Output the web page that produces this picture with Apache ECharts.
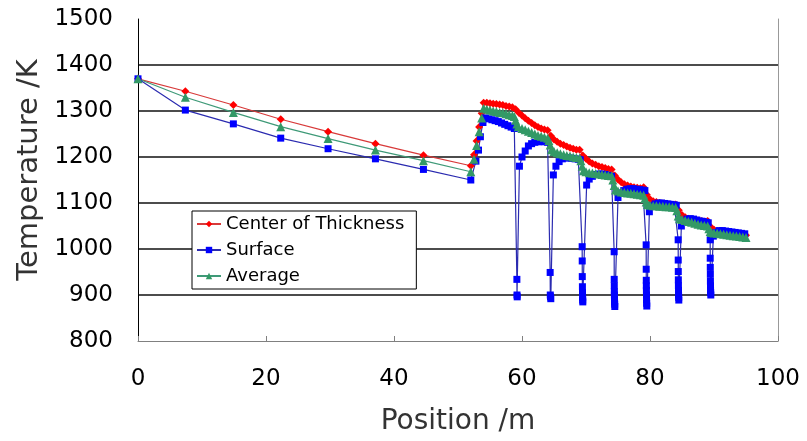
<!DOCTYPE html>
<html>
<head>
<meta charset="utf-8">
<title>Temperature along position</title>
<script src="https://cdn.jsdelivr.net/npm/echarts@6/dist/echarts.min.js"></script>
<style>
  html, body { margin: 0; padding: 0; background: #fff; }
  #chart { width: 807px; height: 441px; }
</style>
</head>
<body>
<div id="chart"></div>
<script>
  // axis ranges
  const xRange = [0, 100, 20];
  const yRange = [800, 1500, 100];

  // Center of Thickness
  const centerPos = [0, 7.4, 14.9, 22.3, 29.7, 37.1, 44.6, 52.0, 52.5, 52.9, 53.3, 53.7,
    54.0, 54.5, 55.0, 55.5, 56.0, 56.5, 57.0, 57.5, 58.0, 58.5, 59.0, 59.5, 60.0, 60.5,
    61.0, 61.5, 62.0, 62.5, 63.0, 63.5, 64.0, 64.5, 65.0, 65.5, 66.0, 66.5, 67.0, 67.5,
    68.0, 68.5, 69.0, 69.5, 70.0, 70.5, 71.0, 71.5, 72.0, 72.5, 73.0, 73.5, 74.0, 74.5,
    75.0, 75.5, 76.0, 76.5, 77.0, 77.5, 78.0, 78.5, 79.0, 79.5, 80.0, 80.5, 81.0, 81.5,
    82.0, 82.5, 83.0, 83.5, 84.0, 84.5, 85.0, 85.5, 86.0, 86.5, 87.0, 87.5, 88.0, 88.5,
    89.0, 89.5, 90.0, 90.5, 91.0, 91.5, 92.0, 92.5, 93.0, 93.5, 94.0, 94.5, 95.0];
  const centerTemp = [1370, 1343, 1313, 1282, 1255, 1229, 1204, 1181, 1205, 1235, 1265, 1295,
    1318, 1318, 1317, 1316, 1315, 1314, 1313, 1311, 1310, 1308, 1304, 1296, 1290, 1284,
    1279, 1274, 1269, 1265, 1262, 1260, 1258, 1246, 1238, 1233, 1229, 1226, 1223, 1220,
    1218, 1216, 1216, 1203, 1196, 1190, 1186, 1183, 1180, 1178, 1176, 1174, 1173, 1160,
    1151, 1145, 1141, 1138, 1136, 1134, 1133, 1132, 1134, 1118, 1108, 1104, 1102, 1100,
    1099, 1098, 1097, 1096, 1097, 1084, 1074, 1069, 1066, 1064, 1063, 1062, 1061, 1060,
    1061, 1048, 1042, 1039, 1038, 1037, 1036, 1035, 1034, 1033, 1032, 1031, 1030];

  // Surface
  const surfacePos = [0, 7.4, 14.9, 22.3, 29.7, 37.1, 44.6, 52.0, 52.8, 53.2, 53.5, 53.9,
    54.3, 54.8, 55.3, 55.8, 56.3, 56.8, 57.3, 57.8, 58.3, 58.8,
    59.2, 59.22, 59.25, 59.6,
    60.0, 60.5, 61.0, 61.5, 62.0, 62.5, 63.0, 63.5, 64.0,
    64.4, 64.42, 64.45, 64.5, 64.9,
    65.3, 65.8, 66.3, 66.8, 67.3, 67.8, 68.3, 68.8, 69.1,
    69.4, 69.41, 69.42, 69.44, 69.45, 69.47, 69.48, 69.5, 70.1,
    70.5, 71.0, 71.5, 72.0, 72.5, 73.0, 73.5, 74.0,
    74.4, 74.41, 74.42, 74.43, 74.44, 74.45, 74.46, 74.48, 74.5, 75.0,
    75.4, 75.9, 76.4, 76.9, 77.4, 77.9, 78.4, 78.9, 79.2,
    79.4, 79.41, 79.42, 79.43, 79.44, 79.45, 79.46, 79.48, 79.5, 79.9,
    80.3, 80.8, 81.3, 81.8, 82.3, 82.8, 83.3, 83.8, 84.1,
    84.4, 84.41, 84.42, 84.43, 84.44, 84.45, 84.46, 84.48, 84.5, 84.9,
    85.3, 85.8, 86.3, 86.8, 87.3, 87.8, 88.3, 88.8, 89.1,
    89.4, 89.41, 89.42, 89.43, 89.44, 89.45, 89.46, 89.48, 89.5, 89.9,
    90.3, 90.8, 91.3, 91.8, 92.3, 92.8, 93.3, 93.8, 94.3, 94.8];
  const surfaceTemp = [1370, 1302, 1272, 1241, 1218, 1196, 1173, 1150, 1191, 1215, 1244, 1275,
    1285, 1283, 1281, 1279, 1277, 1274, 1271, 1268, 1265, 1262,
    934, 900, 896, 1180,
    1200, 1213, 1224, 1229, 1232, 1233, 1234, 1233, 1232,
    949, 900, 896, 892, 1161,
    1180, 1190, 1196, 1198, 1198, 1197, 1196, 1195, 1194,
    1005, 974, 940, 918, 905, 895, 889, 885, 1139,
    1152, 1158, 1162, 1163, 1163, 1162, 1160, 1158,
    994, 934, 920, 907, 900, 890, 885, 880, 875, 1112,
    1122, 1127, 1130, 1131, 1131, 1130, 1129, 1128, 1127,
    1009, 956, 932, 920, 910, 900, 890, 882, 876, 1081,
    1094, 1098, 1100, 1100, 1099, 1098, 1097, 1096, 1095,
    1020, 976, 951, 933, 920, 910, 900, 895, 889, 1050,
    1060, 1065, 1066, 1065, 1063, 1061, 1060, 1058, 1057,
    1020, 980, 960, 945, 930, 920, 910, 905, 900, 1028,
    1036, 1040, 1040, 1039, 1038, 1037, 1036, 1035, 1034, 1033];

  // Average
  const averagePos = [0, 7.4, 14.9, 22.3, 29.7, 37.1, 44.6, 52.0, 52.5, 52.9, 53.3, 53.7,
    54.0, 54.5, 55.0, 55.5, 56.0, 56.5, 57.0, 57.5, 58.0, 58.5, 58.8,
    59.0, 59.2, 59.4, 60.0, 60.5, 61.0, 61.5, 62.0, 62.5, 63.0, 63.5, 64.0,
    64.2, 64.4, 64.6, 65.0, 65.5, 66.0, 66.5, 67.0, 67.5, 68.0, 68.5, 69.0,
    69.2, 69.4, 69.6, 70.0, 70.5, 71.0, 71.5, 72.0, 72.5, 73.0, 73.5, 74.0,
    74.2, 74.4, 74.6, 75.0, 75.5, 76.0, 76.5, 77.0, 77.5, 78.0, 78.5, 79.0,
    79.2, 79.4, 79.6, 80.0, 80.5, 81.0, 81.5, 82.0, 82.5, 83.0, 83.5, 84.0,
    84.2, 84.4, 84.6, 85.0, 85.5, 86.0, 86.5, 87.0, 87.5, 88.0, 88.5, 89.0,
    89.2, 89.4, 89.6, 90.0, 90.5, 91.0, 91.5, 92.0, 92.5, 93.0, 93.5, 94.0, 94.5, 95.0];
  const averageTemp = [1370, 1330, 1297, 1266, 1240, 1215, 1192, 1168, 1195, 1225, 1255, 1285,
    1306, 1304, 1302, 1300, 1299, 1297, 1296, 1294, 1292, 1290, 1288,
    1280, 1272, 1266, 1262, 1259, 1256, 1253, 1250, 1247, 1245, 1243, 1241,
    1236, 1226, 1216, 1212, 1209, 1207, 1205, 1203, 1202, 1200, 1199, 1198,
    1192, 1180, 1170, 1168, 1166, 1165, 1164, 1163, 1162, 1161, 1160, 1159,
    1150, 1138, 1128, 1126, 1124, 1123, 1122, 1121, 1120, 1119, 1118, 1117,
    1110, 1102, 1097, 1095, 1094, 1094, 1093, 1093, 1092, 1092, 1091, 1090,
    1083, 1072, 1066, 1064, 1062, 1060, 1058, 1056, 1054, 1052, 1051, 1050,
    1044, 1038, 1036, 1035, 1034, 1033, 1032, 1031, 1030, 1029, 1028, 1027, 1026, 1025];

  const seriesNames = ['Center of Thickness', 'Surface', 'Average'];
  const font = 'DejaVu Sans';
  // one colour per horizontal grid line, 800 first; the first and last stay hidden
  const gridColors = ['rgba(0,0,0,0)', '#111', '#111', '#111', '#111', '#111', '#111', 'rgba(0,0,0,0)'];

  function pairs(xs, ys) {
    return xs.map((x, i) => [x, ys[i]]);
  }

  function lineSeries(name, data, symbol, size, lineColor, markColor) {
    return {
      name: name,
      type: 'line',
      data: data,
      symbol: symbol,
      symbolSize: size,
      showAllSymbol: true,
      lineStyle: { color: lineColor, width: 1.2 },
      itemStyle: { color: markColor },
      emphasis: { disabled: true }
    };
  }

  const chart = echarts.init(document.getElementById('chart'));
  chart.setOption({
    animation: false,
    backgroundColor: '#fff',
    grid: { left: 138, right: 29, top: 19, bottom: 100 },
    legend: {
      orient: 'vertical',
      left: 192,
      top: 211,
      padding: [4, 12, 4, 4],
      itemGap: 8,
      itemWidth: 24,
      itemHeight: 8,
      backgroundColor: '#fff',
      borderColor: '#000',
      borderWidth: 1,
      textStyle: { fontSize: 18, color: '#000', fontFamily: font },
      data: seriesNames
    },
    xAxis: {
      type: 'value',
      min: xRange[0], max: xRange[1], interval: xRange[2],
      axisLine: { onZero: false, lineStyle: { color: '#808080', width: 1 } },
      axisTick: { inside: true, length: 5, lineStyle: { color: '#808080' } },
      axisLabel: { fontSize: 23, color: '#000', margin: 27, fontFamily: font },
      splitLine: { show: false },
      name: 'Position /m',
      nameLocation: 'middle',
      nameGap: 67,
      nameTextStyle: { fontSize: 28, color: '#333', fontFamily: font }
    },
    yAxis: [{
      type: 'value',
      min: yRange[0], max: yRange[1], interval: yRange[2],
      axisLine: { show: true, lineStyle: { color: '#000', width: 1 } },
      axisTick: { show: false },
      axisLabel: {
        fontSize: 23, color: '#000', margin: 25, fontFamily: font,
        formatter: function (v) { return String(v); }
      },
      splitLine: {
        show: true,
        lineStyle: { color: gridColors, width: 1.6 }
      },
      name: 'Temperature /K',
      nameLocation: 'middle',
      nameGap: 92,
      nameTextStyle: { fontSize: 29, color: '#333', fontFamily: font, padding: [0, 0, 0, 20] }
    }, {
      type: 'value',
      position: 'right',
      min: yRange[0], max: yRange[1], interval: yRange[2],
      axisLine: { show: true, lineStyle: { color: '#999', width: 1 } },
      axisTick: { show: false },
      axisLabel: { show: false },
      splitLine: { show: false }
    }],
    series: [
      lineSeries(seriesNames[0], pairs(centerPos, centerTemp), 'diamond', 8, '#d83a3a', '#ff0000'),
      lineSeries(seriesNames[1], pairs(surfacePos, surfaceTemp), 'rect', 7, '#2b2bb0', '#0000ff'),
      lineSeries(seriesNames[2], pairs(averagePos, averageTemp), 'triangle', 9, '#3f9a78', '#339966')
    ]
  });
</script>
</body>
</html>
